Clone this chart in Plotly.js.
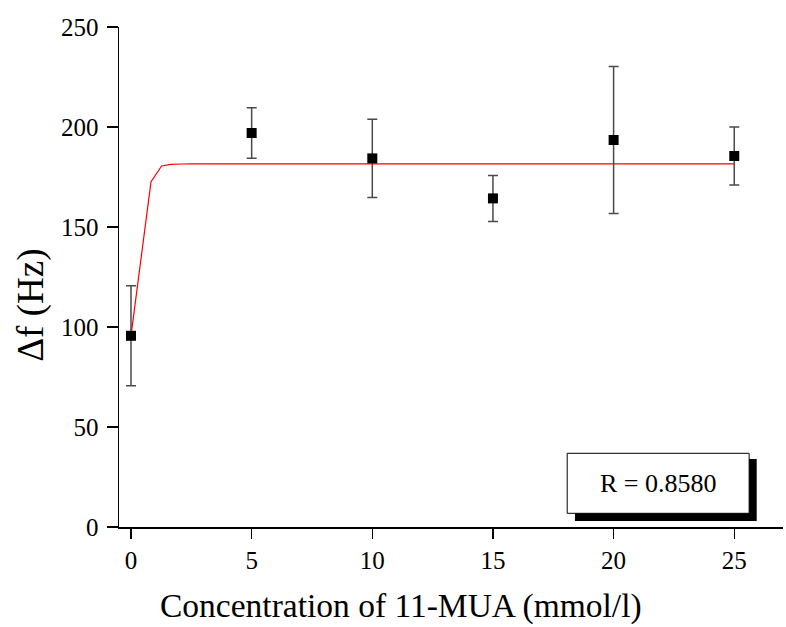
<!DOCTYPE html>
<html>
<head>
<meta charset="utf-8">
<script src="https://cdn.plot.ly/plotly-3.0.1.min.js"></script>
<style>html,body{margin:0;padding:0;background:#fff;}#chart{width:786px;height:627px;}</style>
</head>
<body>
<div id="chart"></div>
<script>
// Measured data points (concentration in mmol/l, frequency shift in Hz)
const concentration = [0, 5, 10, 15, 20, 25];
const deltaF = [95.6, 197.0, 184.3, 164.3, 193.5, 185.5];
const deltaFErr = [25.0, 12.6, 19.6, 11.5, 36.7, 14.5];

// Fitted curve
const fitX = [0, 0.42, 0.83, 1.27, 1.64, 2.1, 2.5, 25];
const fitY = [95.6, 134.0, 172.7, 180.5, 181.3, 181.5, 181.6, 181.6];

const xTickVals = [0, 5, 10, 15, 20, 25];
const yTickVals = [0, 50, 100, 150, 200, 250];

const xTitle = "Concentration of 11-MUA (mmol/l)";
const yTitle = "\u0394f (Hz)";
const rLabel = "R = 0.8580";

const serif = "Liberation Serif, Times New Roman, serif";

const traces = [
  {
    x: fitX, y: fitY, type: "scatter", mode: "lines",
    line: {color: "#ff0000", width: 1.2},
    hoverinfo: "skip", showlegend: false
  },
  {
    x: concentration, y: deltaF, type: "scatter", mode: "markers",
    marker: {symbol: "square", size: 10, color: "#000000"},
    error_y: {type: "data", array: deltaFErr, visible: true, color: "#4a4a4a", thickness: 1.5, width: 5},
    showlegend: false
  }
];

const layout = {
  width: 786, height: 627,
  paper_bgcolor: "#ffffff", plot_bgcolor: "#ffffff",
  margin: {l: 119, r: 3, t: 27, b: 100},
  showlegend: false,
  font: {family: serif, color: "#000"},
  xaxis: {
    range: [-0.497, 27.02],
    tickvals: xTickVals,
    ticktext: xTickVals.map(String),
    showgrid: false, zeroline: false,
    showline: true, linecolor: "#000", linewidth: 1.5,
    ticks: "outside", ticklen: 10, tickwidth: 1.5, tickcolor: "#000",
    tickfont: {family: serif, size: 25, color: "#000"},
    ticklabelstandoff: 0
  },
  yaxis: {
    range: [0, 250],
    tickvals: yTickVals,
    ticktext: yTickVals.map(String),
    showgrid: false, zeroline: false,
    showline: true, linecolor: "#000", linewidth: 1.5,
    ticks: "outside", ticklen: 11, tickwidth: 1.5, tickcolor: "#000",
    tickfont: {family: serif, size: 25, color: "#000"},
    ticklabelstandoff: 3
  },
  shapes: [
    {type: "rect", xref: "paper", yref: "paper", x0: 0.6867, x1: 0.9604, y0: 0.012, y1: 0.136,
     fillcolor: "#000", line: {width: 0}, layer: "above"},
    {type: "rect", xref: "paper", yref: "paper", x0: 0.675, x1: 0.949, y0: 0.0274, y1: 0.1474,
     fillcolor: "#fff", line: {color: "#000", width: 1}, layer: "above"}
  ],
  annotations: [
    {text: rLabel, xref: "paper", yref: "paper", x: 0.812, y: 0.0874, showarrow: false,
     xanchor: "center", yanchor: "middle", font: {family: serif, size: 26, color: "#000"}},
    {text: xTitle, xref: "paper", yref: "paper", x: 0.4247, y: -0.158, showarrow: false,
     xanchor: "center", yanchor: "middle", font: {family: serif, size: 33.5, color: "#000"}},
    {text: yTitle, xref: "paper", yref: "paper", x: -0.133, y: 0.444, showarrow: false, textangle: -90,
     xanchor: "center", yanchor: "middle", font: {family: serif, size: 37, color: "#000"}}
  ]
};

Plotly.newPlot("chart", traces, layout, {staticPlot: true, displayModeBar: false});
</script>
</body>
</html>
